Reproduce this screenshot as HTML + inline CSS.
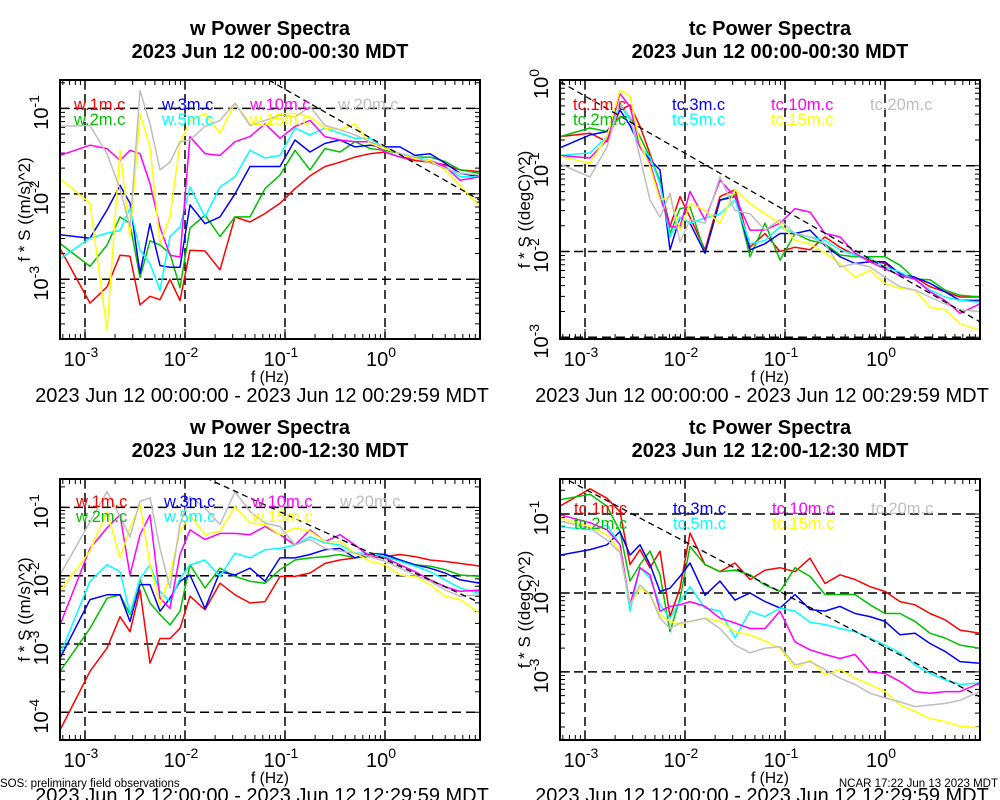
<!DOCTYPE html>
<html><head><meta charset="utf-8"><style>
html,body{margin:0;padding:0;background:#fff;}
svg{display:block;font-family:"Liberation Sans",Arial,sans-serif;}
</style></head><body>
<svg id="chart" width="1000" height="800" viewBox="0 0 1000 800">
<text x="0" y="787" font-size="11.5" fill="#000">SOS: preliminary field observations</text>
<text x="998" y="787" font-size="11.5" fill="#000" text-anchor="end">NCAR 17:22 Jun 13 2023 MDT</text>
</svg>
<script>
// frequency grid (log10 Hz)
const logFreq = [-3.25,-2.95,-2.78,-2.65,-2.55,-2.45,-2.35,-2.25,-2.15,-2.05,-1.95,-1.8,-1.65,-1.5,-1.35,-1.2,-1.05,-0.9,-0.75,-0.6,-0.45,-0.3,-0.15,0,0.15,0.3,0.45,0.6,0.75,0.95];
const xTickDecades = [-3,-2,-1,0];
const seriesColors = ['#ff0000','#00c000','#0000ff','#00ffff','#ff00ff','#ffff00','#bebebe'];
const heights = ['1m','2m','3m','5m','10m','15m','20m'];

// Panel 1: w 00:00 (log10 of f*S)
const w00_1m = [-2.64,-3.28,-3.09,-2.72,-2.73,-3.30,-3.20,-3.24,-3.00,-3.25,-2.66,-2.67,-2.89,-2.27,-2.33,-2.23,-2.11,-1.94,-1.79,-1.68,-1.63,-1.57,-1.53,-1.51,-1.57,-1.61,-1.63,-1.66,-1.72,-1.74];
const w00_2m = [-2.58,-2.85,-2.6,-2.27,-2.35,-2.98,-2.55,-2.6,-2.7,-3.1,-2.4,-2.25,-2.5,-2.27,-2.27,-1.94,-1.78,-1.49,-1.72,-1.47,-1.51,-1.39,-1.47,-1.49,-1.53,-1.57,-1.57,-1.62,-1.72,-1.76];
const w00_3m = [-2.48,-2.52,-2.19,-1.9,-2.11,-2.93,-2.35,-2.84,-2.86,-2.86,-2.13,-2.35,-2.27,-2.0,-1.68,-1.68,-1.68,-1.37,-1.51,-1.41,-1.37,-1.45,-1.43,-1.45,-1.45,-1.55,-1.53,-1.64,-1.76,-1.8];
const w00_5m = [-2.76,-2.52,-2.46,-2.43,-2.17,-2.66,-2.82,-3.13,-2.5,-2.39,-1.92,-2.27,-1.92,-1.8,-1.49,-1.58,-1.55,-1.23,-1.31,-1.23,-1.29,-1.35,-1.35,-1.47,-1.53,-1.57,-1.61,-1.68,-1.8,-1.8];
const w00_10m = [-1.55,-1.43,-1.47,-1.61,-1.49,-1.53,-1.88,-2.39,-2.72,-2.74,-1.33,-1.53,-1.55,-1.39,-1.33,-1.18,-1.35,-1.21,-1.14,-1.33,-1.37,-1.39,-1.39,-1.51,-1.57,-1.59,-1.61,-1.68,-1.84,-1.8];
const w00_15m = [-1.82,-2.11,-3.6,-1.49,-2.5,-1.06,-1.45,-2.58,-2.27,-1.41,-1.14,-1.06,-1.29,-0.94,-1.18,-1.2,-1.06,-1.06,-1.1,-1.23,-1.25,-1.18,-1.41,-1.47,-1.53,-1.59,-1.61,-1.72,-1.9,-2.15];
const w00_20m = [-1.21,-1.2,-1.53,-1.94,-2.39,-0.79,-1.18,-1.72,-1.63,-1.39,-1.37,-1.21,-1.14,-0.94,-1.2,-1.14,-1.08,-1.1,-0.98,-1.2,-1.25,-1.31,-1.39,-1.45,-1.53,-1.57,-1.64,-1.7,-1.76,-1.78];

// Panel 2: tc 00:00
const tc00_1m = [-0.66,-0.62,-0.72,-0.35,-0.29,-0.54,-0.86,-1.21,-1.71,-1.36,-1.6,-1.98,-1.36,-1.28,-1.95,-1.79,-2.0,-1.95,-1.98,-1.83,-1.95,-2.04,-2.1,-2.14,-2.26,-2.3,-2.41,-2.47,-2.53,-2.53];
const tc00_2m = [-0.66,-0.56,-0.6,-0.43,-0.43,-0.66,-0.9,-1.17,-1.79,-1.5,-1.48,-2.02,-1.4,-1.34,-2.06,-1.67,-2.1,-1.79,-1.87,-1.91,-2.04,-2.06,-2.06,-2.06,-2.16,-2.32,-2.33,-2.45,-2.51,-2.53];
const tc00_3m = [-0.79,-0.64,-0.6,-0.35,-0.53,-0.78,-0.93,-1.05,-1.98,-1.6,-1.67,-2.02,-1.4,-1.36,-1.98,-1.91,-1.79,-1.79,-1.75,-1.93,-2.06,-2.14,-2.12,-2.12,-2.26,-2.3,-2.37,-2.47,-2.57,-2.57];
const tc00_5m = [-0.88,-0.85,-0.66,-0.29,-0.47,-0.78,-0.9,-1.21,-1.83,-1.6,-1.67,-1.61,-1.56,-1.4,-1.91,-1.87,-1.71,-1.79,-1.83,-1.87,-1.98,-2.04,-2.08,-2.18,-2.24,-2.33,-2.45,-2.53,-2.57,-2.59];
const tc00_10m = [-0.88,-0.91,-0.7,-0.16,-0.31,-0.78,-0.97,-1.36,-1.71,-1.71,-1.3,-1.63,-1.17,-1.36,-1.75,-1.75,-1.67,-1.5,-1.54,-1.79,-1.83,-2.02,-2.12,-2.2,-2.28,-2.32,-2.47,-2.57,-2.72,-2.61];
const tc00_15m = [-0.89,-0.97,-0.66,-0.12,-0.19,-0.74,-1.01,-1.4,-1.36,-1.75,-1.44,-1.52,-1.67,-1.28,-1.44,-1.56,-1.67,-1.87,-1.91,-2.02,-2.14,-2.3,-2.22,-2.37,-2.43,-2.45,-2.65,-2.68,-2.84,-2.92];
const tc00_20m = [-0.98,-1.13,-0.78,-0.27,-0.43,-0.9,-1.4,-1.6,-1.32,-1.89,-1.63,-1.67,-1.13,-1.52,-1.56,-1.75,-1.63,-1.79,-1.83,-1.91,-2.18,-2.14,-2.18,-2.3,-2.41,-2.45,-2.53,-2.61,-2.68,-2.7];

// Panel 3: w 12:00
const w12_1m = [-4.26,-3.4,-3.06,-2.6,-2.82,-2.21,-3.28,-2.92,-2.92,-2.77,-2.3,-2.5,-2.11,-2.28,-2.4,-2.38,-2.01,-2.01,-1.96,-1.82,-1.77,-1.74,-1.69,-1.72,-1.69,-1.72,-1.77,-1.79,-1.82,-1.86];
const w12_2m = [-3.4,-2.77,-2.33,-2.28,-2.57,-2.06,-2.4,-2.57,-2.72,-2.52,-1.84,-2.18,-1.89,-2.01,-2.08,-2.11,-1.91,-1.77,-1.74,-1.72,-1.69,-1.74,-1.72,-1.74,-1.77,-1.84,-1.86,-1.91,-1.99,-2.01];
const w12_3m = [-3.21,-2.35,-2.28,-2.28,-2.67,-2.13,-2.13,-2.52,-2.33,-2.08,-1.99,-2.48,-1.94,-1.99,-1.89,-2.08,-1.74,-1.74,-1.69,-1.62,-1.6,-1.74,-1.67,-1.69,-1.77,-1.84,-1.89,-1.96,-2.06,-2.11];
const w12_5m = [-3.16,-2.08,-1.84,-1.94,-2.55,-2.04,-1.84,-2.23,-2.38,-2.04,-1.84,-1.77,-2.01,-1.67,-1.74,-1.62,-1.6,-1.55,-1.43,-1.52,-1.55,-1.67,-1.67,-1.72,-1.79,-1.86,-1.94,-2.06,-2.18,-2.26];
const w12_10m = [-2.72,-1.6,-1.3,-1.11,-1.99,-1.4,-1.11,-2.33,-2.48,-1.69,-1.33,-1.47,-1.38,-1.38,-1.4,-1.28,-1.4,-1.55,-1.33,-1.5,-1.4,-1.55,-1.72,-1.74,-1.84,-1.94,-2.06,-2.16,-2.23,-2.21];
const w12_15m = [-2.23,-1.64,-1.06,-1.74,-1.3,-0.96,-1.84,-2.43,-1.99,-1.35,-1.11,-1.4,-1.35,-0.99,-1.23,-1.25,-1.4,-1.3,-1.35,-1.5,-1.5,-1.67,-1.79,-1.84,-1.99,-2.01,-2.13,-2.3,-2.35,-2.55];
const w12_20m = [-1.99,-1.21,-0.77,-1.13,-1.43,-0.91,-0.86,-1.6,-2.18,-1.25,-0.84,-1.01,-1.25,-0.77,-1.06,-1.23,-1.28,-1.55,-1.47,-1.6,-1.64,-1.67,-1.72,-1.79,-1.89,-1.99,-2.08,-2.21,-2.3,-2.28];

// Panel 4: tc 12:00
const tc12_1m = [-0.9,-0.68,-0.8,-0.97,-1.64,-1.45,-1.68,-1.47,-2.3,-1.94,-1.24,-1.64,-1.73,-1.62,-1.83,-1.71,-1.68,-1.73,-1.56,-1.88,-1.77,-1.83,-1.92,-1.98,-2.11,-2.15,-2.26,-2.34,-2.47,-2.51];
const tc12_2m = [-0.82,-0.75,-0.9,-1.22,-1.85,-1.64,-1.47,-1.77,-2.49,-2.07,-1.41,-1.64,-1.73,-1.71,-1.77,-1.9,-1.98,-1.68,-1.79,-2.02,-2.02,-2.02,-2.15,-2.26,-2.26,-2.36,-2.51,-2.57,-2.66,-2.7];
const tc12_3m = [-1.52,-1.45,-1.39,-1.22,-1.52,-1.39,-1.64,-1.98,-1.94,-1.79,-1.62,-2.03,-1.85,-2.09,-2.0,-2.11,-2.19,-2.02,-2.21,-2.23,-2.17,-2.26,-2.3,-2.36,-2.53,-2.51,-2.64,-2.74,-2.87,-2.89];
const tc12_5m = [-1.16,-1.2,-1.14,-1.39,-2.23,-1.68,-1.81,-2.15,-2.32,-2.11,-1.92,-2.19,-2.23,-2.57,-2.23,-2.3,-2.19,-2.23,-2.37,-2.4,-2.45,-2.49,-2.57,-2.66,-2.76,-2.91,-3.02,-3.1,-3.16,-3.14];
const tc12_10m = [-1.01,-1.11,-1.2,-1.39,-2.15,-1.68,-1.77,-2.23,-2.17,-2.15,-2.11,-2.17,-2.32,-2.38,-2.45,-2.45,-2.23,-2.62,-2.72,-2.78,-2.83,-2.78,-3.0,-3.02,-3.12,-3.25,-3.27,-3.25,-3.25,-3.14];
const tc12_15m = [-1.05,-1.16,-1.26,-1.47,-2.15,-1.94,-2.02,-2.28,-2.36,-2.4,-2.36,-2.32,-2.36,-2.49,-2.53,-2.61,-2.7,-2.95,-2.85,-3.04,-2.97,-3.08,-3.16,-3.25,-3.42,-3.5,-3.59,-3.63,-3.69,-3.71];
const tc12_20m = [-1.09,-1.18,-1.33,-1.49,-2.15,-1.9,-2.02,-2.32,-2.45,-2.38,-2.36,-2.32,-2.45,-2.66,-2.76,-2.7,-2.68,-2.91,-2.87,-2.97,-3.08,-3.16,-3.27,-3.33,-3.38,-3.44,-3.42,-3.4,-3.36,-3.25];

const NS='http://www.w3.org/2000/svg';
const svg=document.getElementById('chart');
function mk(tag,attrs,parent){const e=document.createElementNS(NS,tag);for(const k in attrs)e.setAttribute(k,attrs[k]);(parent||svg).appendChild(e);return e;}

const panels=[
 {id:'w-00',var:'w',title:'w Power Spectra',sub:'2023 Jun 12 00:00-00:30 MDT',range:'2023 Jun 12 00:00:00 - 2023 Jun 12 00:29:59 MDT',ytitle:'f * S ((m/s)^2)',
  px0:60,px1:480,py0:80,py1:339,lyTop:-0.667,lyBot:-3.70,yTicks:[-1,-2,-3],refA:-1.442,data:[w00_1m,w00_2m,w00_3m,w00_5m,w00_10m,w00_15m,w00_20m],legX:[74,162,250,338],legY:110,titleY:35,rangeY:402},
 {id:'tc-00',var:'tc',title:'tc Power Spectra',sub:'2023 Jun 12 00:00-00:30 MDT',range:'2023 Jun 12 00:00:00 - 2023 Jun 12 00:29:59 MDT',ytitle:'f * S ((degC)^2)',
  px0:560,px1:980,py0:80,py1:339,lyTop:0,lyBot:-3.02,yTicks:[0,-1,-2,-3],refA:-2.187,data:[tc00_1m,tc00_2m,tc00_3m,tc00_5m,tc00_10m,tc00_15m,tc00_20m],legX:[573,672,771,870],legY:110,titleY:35,rangeY:402},
 {id:'w-12',var:'w',title:'w Power Spectra',sub:'2023 Jun 12 12:00-12:30 MDT',range:'2023 Jun 12 12:00:00 - 2023 Jun 12 12:29:59 MDT',ytitle:'f * S ((m/s)^2)',
  px0:60,px1:480,py0:479,py1:740,lyTop:-0.584,lyBot:-4.406,yTicks:[-1,-2,-3,-4],refA:-1.763,data:[w12_1m,w12_2m,w12_3m,w12_5m,w12_10m,w12_15m,w12_20m],legX:[76,164,252,340],legY:507,titleY:434,rangeY:802},
 {id:'tc-12',var:'tc',title:'tc Power Spectra',sub:'2023 Jun 12 12:00-12:30 MDT',range:'2023 Jun 12 12:00:00 - 2023 Jun 12 12:29:59 MDT',ytitle:'f * S ((degC)^2)',
  px0:560,px1:980,py0:479,py1:740,lyTop:-0.556,lyBot:-3.863,yTicks:[-1,-2,-3],refA:-2.684,data:[tc12_1m,tc12_2m,tc12_3m,tc12_5m,tc12_10m,tc12_15m,tc12_20m],legX:[574,673,772,871],legY:514,titleY:434,rangeY:802}
];
const LXMIN=-3.25, LXMAX=0.95;

panels.forEach((p,pi)=>{
 const g=mk('g',{});
 
 
 const xs=lf=>p.px0+(lf-LXMIN)/(LXMAX-LXMIN)*(p.px1-p.px0);
 const ys=ly=>p.py0+(p.lyTop-ly)/(p.lyTop-p.lyBot)*(p.py1-p.py0);
 const cx=(p.px0+p.px1)/2;
 const t1=mk('text',{x:cx,y:p.titleY,'font-size':20,'font-weight':'bold','text-anchor':'middle'},g);t1.textContent=p.title;
 
 
 const t2=mk('text',{x:cx,y:p.titleY+23,'font-size':20,'font-weight':'bold','text-anchor':'middle'},g);t2.textContent=p.sub;
 
 
 const cp=mk('clipPath',{id:'clip'+pi},g);mk('rect',{x:p.px0,y:p.py0,width:p.px1-p.px0,height:p.py1-p.py0},cp);
 xTickDecades.forEach(d=>{const l=mk('line',{x1:xs(d),x2:xs(d),y1:p.py0,y2:p.py1,stroke:'#000','stroke-width':1.5,'stroke-dasharray':'9,5'},g);
  
  });
 p.yTicks.forEach(d=>{const l=mk('line',{x1:p.px0,x2:p.px1,y1:ys(d),y2:ys(d),stroke:'#000','stroke-width':1.5,'stroke-dasharray':'9,5'},g);
  
  });
 let tk='';
 for(let d=-4;d<=1;d++){for(let m=1;m<=9;m++){const lf=d+Math.log10(m);
   if(lf>LXMIN&&lf<LXMAX){const x=xs(lf),L=m===1?10:5;tk+=`M${x},${p.py1}v${-L}M${x},${p.py0}v${L}`;}
   const ly=d+Math.log10(m);
   if(ly<p.lyTop&&ly>p.lyBot){const y=ys(ly),L=m===1?10:5;tk+=`M${p.px0},${y}h${L}M${p.px1},${y}h${-L}`;}}}
 const ticks=mk('path',{d:tk,stroke:'#000','stroke-width':1,fill:'none'},g);
 
 
 const sg=mk('g',{'clip-path':`url(#clip${pi})`},g);
 p.data.forEach((arr,si)=>{
  const d=arr.map((v,i)=>(i?'L':'M')+xs(logFreq[i]).toFixed(1)+','+ys(v).toFixed(1)).join('');
  const pl=mk('path',{d:d,fill:'none',stroke:seriesColors[si],'stroke-width':1.5,'stroke-linejoin':'round'},sg);
  
  
 });
 const rl=mk('line',{x1:xs(LXMIN),y1:ys(p.refA-2/3*LXMIN),x2:xs(LXMAX),y2:ys(p.refA-2/3*LXMAX),stroke:'#000','stroke-width':1.3,'stroke-dasharray':'6,4','clip-path':`url(#clip${pi})`},g);
 
 
 heights.forEach((h,si)=>{
  const col=Math.floor(si/2);
  const row=si%2;
  const lt=mk('text',{x:p.legX[col],y:p.legY+row*15,'font-size':16.5,fill:seriesColors[si]},g);
  lt.textContent=p.var+'.'+h+'.c';
  
  
 });
 const fr=mk('rect',{x:p.px0,y:p.py0,width:p.px1-p.px0,height:p.py1-p.py0,fill:'none',stroke:'#000','stroke-width':2},g);
 
 
 xTickDecades.forEach(d=>{const t=mk('text',{x:xs(d)-4,y:p.py1+27,'font-size':20,'text-anchor':'middle'},g);
  t.innerHTML='10<tspan dy="-9" font-size="14">'+d+'</tspan>';
  
  });
 p.yTicks.forEach(d=>{const t=mk('text',{transform:`translate(${p.px0-12},${ys(d)+4}) rotate(-90)`,'font-size':20,'text-anchor':'middle'},g);
  t.innerHTML='10<tspan dy="-9" font-size="14">'+d+'</tspan>';
  
  });
 const xt=mk('text',{x:cx,y:p.py1+43,'font-size':15.5,'text-anchor':'middle'},g);xt.textContent='f (Hz)';
 
 
 const yt=mk('text',{transform:`translate(${p.px0-30},${(p.py0+p.py1)/2}) rotate(-90)`,'font-size':17,'text-anchor':'middle'},g);yt.textContent=p.ytitle;
 
 
 const rt=mk('text',{x:cx-8,y:p.rangeY,'font-size':20,'text-anchor':'middle'},g);rt.textContent=p.range;
 
 
});
</script>
</body></html>
